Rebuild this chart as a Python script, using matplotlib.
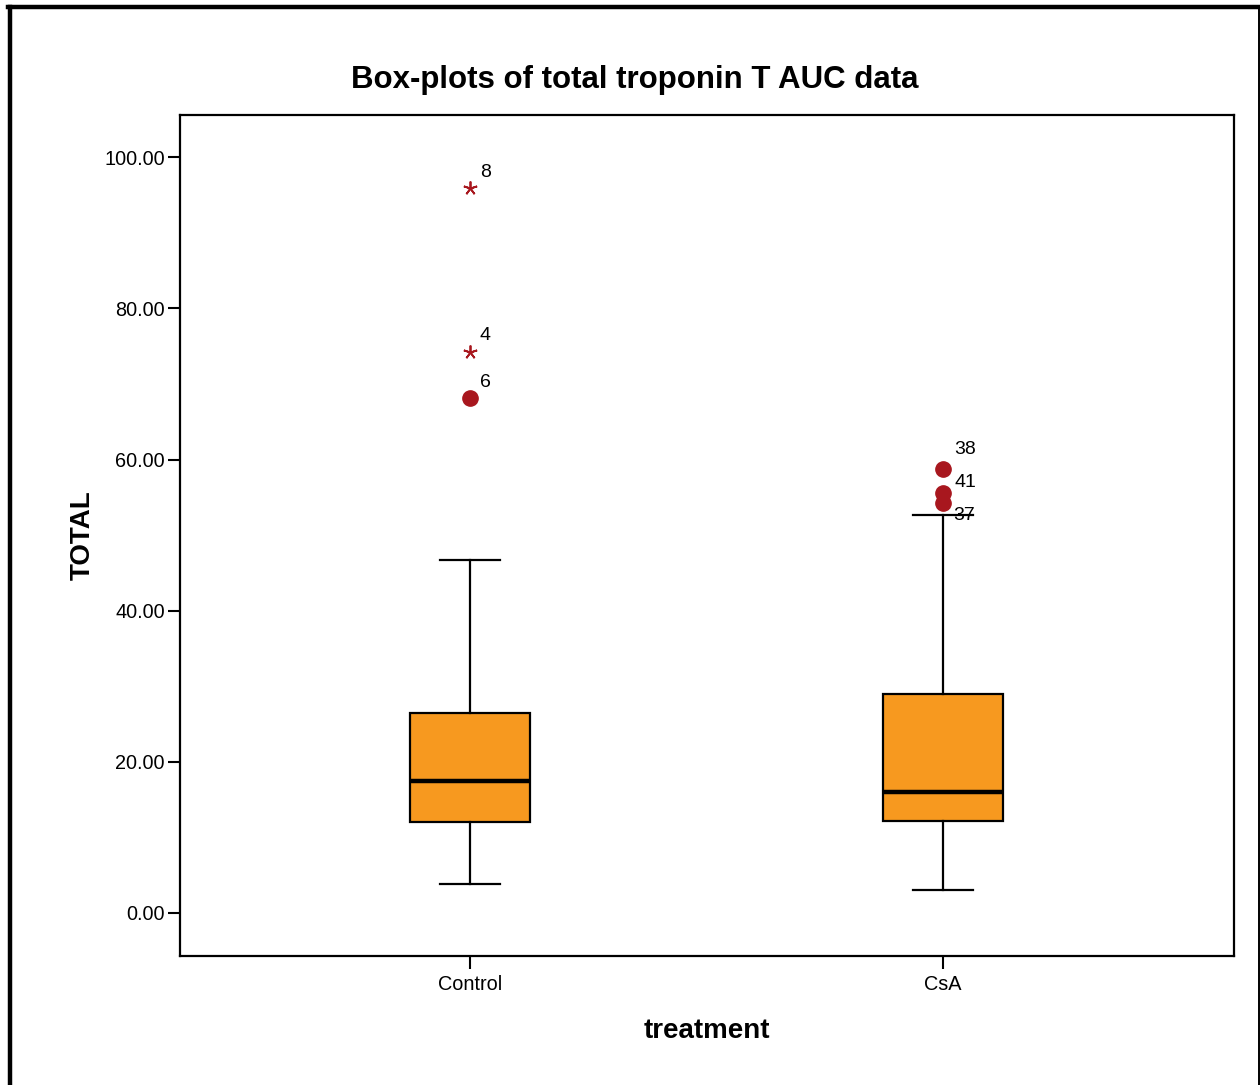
import matplotlib
matplotlib.use('Agg')
import matplotlib.pyplot as plt
from matplotlib.lines import Line2D

plt.rcParams['font.family'] = ['Liberation Sans', 'DejaVu Sans']

# data
groups = ['Control', 'CsA']
whislo = [3.8, 3.0]
q1 = [12.0, 12.2]
med = [17.5, 16.0]
q3 = [26.5, 29.0]
whishi = [46.7, 52.7]

# outliers: group index, value, case label, kind ('o' = outlier, '*' = extreme)
out_group = [0, 0, 0, 1, 1, 1]
out_value = [95.9, 74.3, 68.1, 58.7, 55.6, 54.2]
out_label = ['8', '4', '6', '38', '41', '37']
out_kind = ['*', '*', 'o', 'o', 'o', 'o']

yticks = [0, 20, 40, 60, 80, 100]

orange = '#F7991F'
darkred = '#A8171E'

fig = plt.figure(figsize=(12.6, 10.85), dpi=100)
ax = fig.add_axes([180 / 1260, 1 - 956 / 1085, 1054 / 1260, 841 / 1085])

stats = []
for i in range(len(groups)):
    stats.append({'whislo': whislo[i], 'q1': q1[i], 'med': med[i],
                  'q3': q3[i], 'whishi': whishi[i], 'fliers': []})

ax.bxp(stats, positions=[1, 2], widths=0.252, patch_artist=True,
       showfliers=False,
       boxprops=dict(facecolor=orange, edgecolor='black', linewidth=1.6),
       medianprops=dict(color='black', linewidth=3.2),
       whiskerprops=dict(color='black', linewidth=1.6),
       capprops=dict(color='black', linewidth=1.6), capwidths=0.126)

# label offsets in pixels (SPSS moves them to avoid overlap)
lab_dx = [10, 10, 10, 11, 11, 10]
lab_dy = [16, 16, 16, 20, 10, -12]

for g, v, lab, k, dx, dy in zip(out_group, out_value, out_label, out_kind,
                                lab_dx, lab_dy):
    x = g + 1
    if k == '*':
        ax.plot(x, v, marker=(5, 2), color=darkred, markersize=10,
                markeredgewidth=1.3, linestyle='none')
    else:
        ax.plot(x, v, marker='o', color=darkred, markersize=11,
                linestyle='none')
    ax.annotate(lab, (x, v), xytext=(dx, dy), textcoords='offset pixels',
                ha='left', va='center', fontsize=14)

ax.set_xlim(0.387, 2.615)
ax.set_ylim(-5.7, 105.6)
ax.set_xticks([1, 2])
ax.set_xticklabels(groups)
ax.set_yticks(yticks)
ax.set_yticklabels(['%.2f' % t for t in yticks])
ax.tick_params(axis='both', direction='out', length=9, width=1.5,
               labelsize=14.3)
ax.tick_params(axis='x', pad=5)
ax.tick_params(axis='y', pad=2)
for s in ax.spines.values():
    s.set_linewidth(1.6)

ax.set_xlabel('treatment', fontsize=20, fontweight='bold', labelpad=17)
ax.set_ylabel('TOTAL', fontsize=20, fontweight='bold', labelpad=6)
fig.text(635 / 1260, 1 - 80 / 1085, 'Box-plots of total troponin T AUC data',
         ha='center', va='center', fontsize=22.5, fontweight='bold')

# outer frame (bottom edge runs off the picture)
fig.add_artist(Line2D([9.5 / 1260, 9.5 / 1260], [0, 1 - 6.5 / 1085],
                      color='black', linewidth=3.2,
                      transform=fig.transFigure))
fig.add_artist(Line2D([8 / 1260, 1258.5 / 1260],
                      [1 - 6.5 / 1085, 1 - 6.5 / 1085],
                      color='black', linewidth=3.2,
                      transform=fig.transFigure))
fig.add_artist(Line2D([1258.5 / 1260, 1258.5 / 1260], [0, 1 - 6.5 / 1085],
                      color='black', linewidth=1.4,
                      transform=fig.transFigure))

fig.savefig('out.png', dpi=100)
